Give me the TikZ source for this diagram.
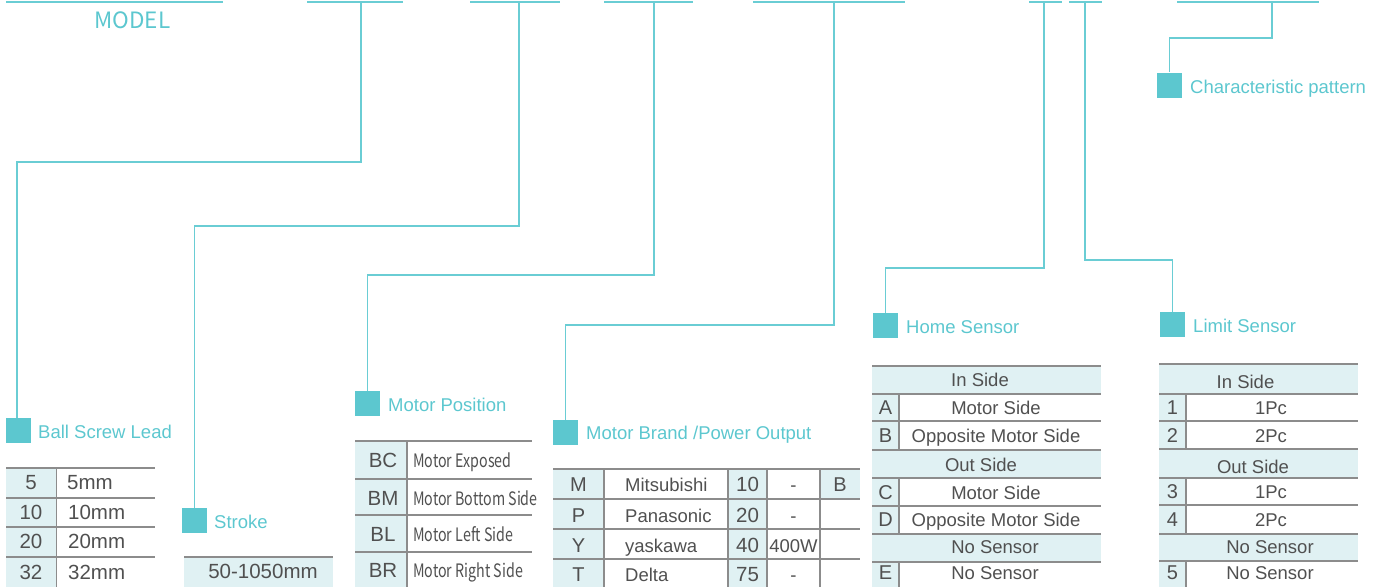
\documentclass[tikz,border=0pt]{standalone}
\usepackage{fontspec}
\setmainfont{Liberation Sans}
\newfontfamily\modelfont{Noto Sans CJK SC}
\newfontfamily\condfont[FakeStretch=0.77]{Noto Sans CJK SC}
\definecolor{teal1}{HTML}{5CC7CF}
\definecolor{tline}{HTML}{6ACDD4}
\definecolor{cellbg}{HTML}{E0F1F3}
\definecolor{gridc}{HTML}{8C8C8C}
\definecolor{txt}{HTML}{505050}
\tikzset{
  conn/.style={draw=tline, line width=1.5pt},
  sqr/.style={fill=teal1, minimum size=25pt, inner sep=0pt, draw=none},
  lbl/.style={text=teal1, font=\fontsize{18.5}{20}\selectfont, anchor=base west, inner sep=0pt},
  cell/.style={text=txt, font=\fontsize{18.5}{20}\selectfont, anchor=base, inner sep=0pt},
  cellL/.style={cell, anchor=base west},
  codecell/.style={cell, font=\fontsize{20}{22}\selectfont},
  bigcell/.style={cell, font=\fontsize{20.5}{22}\selectfont},
  bigcellL/.style={bigcell, anchor=base west},
  condcell/.style={cellL, font=\condfont\fontsize{18.5}{20}\selectfont},
  hgrid/.style={draw=gridc, line width=1.8pt},
  tgrid/.style={draw=gridc, line width=1.1pt},
  vgrid/.style={draw=gridc, line width=1.4pt},
}
\begin{document}
\begin{tikzpicture}[x=1pt,y=-1pt]
\useasboundingbox (0,0) rectangle (1384,587);
\clip (0,0) rectangle (1384,587);

% ---------- top segments ----------
\draw[conn] (6,2) -- (223,2);
\node[text=teal1, font=\modelfont\fontsize{22.5}{24}\selectfont, anchor=base, inner sep=0pt] (model) at (132.5,28.5) {MODEL};
\draw[conn] (307,2) -- (403,2);
\draw[conn] (470,2) -- (560,2);
\draw[conn] (604,2) -- (693,2);
\draw[conn] (753,2) -- (905,2);
\draw[conn] (1029,2) -- (1062,2);
\draw[conn] (1069,2) -- (1102,2);
\draw[conn] (1177,2) -- (1319,2);

\coordinate (t1) at (361,2);
\coordinate (t2) at (519,2);
\coordinate (t3) at (654,2);
\coordinate (t4) at (834,2);
\coordinate (t5) at (1044,2);
\coordinate (t6) at (1085,2);
\coordinate (t7) at (1272,2);

\coordinate (b1) at (361,162);
\coordinate (b2) at (519,226);
\coordinate (b3) at (654,275);
\coordinate (b4) at (834,325);
\coordinate (b5) at (1044,268);
\coordinate (b6) at (1085,260);
\coordinate (b7) at (1272,38);

% ---------- squares and labels ----------
\node[sqr] (sq1) at (18.5,430.5) {};
\node[sqr] (sq2) at (194.5,520.5) {};
\node[sqr] (sq3) at (367.5,403.5) {};
\node[sqr] (sq4) at (565.5,432.5) {};
\node[sqr] (sq5) at (885.5,325.5) {};
\node[sqr] (sq6) at (1172.5,324.5) {};
\node[sqr] (sq7) at (1169.5,85) {};

\node[lbl] (l1) at (38,438) {Ball Screw Lead};
\node[lbl] (l2) at (214,528) {Stroke};
\node[lbl] (l3) at (388,411) {Motor Position};
\node[lbl] (l4) at (586,439) {Motor Brand /Power Output};
\node[lbl] (l5) at (906,333) {Home Sensor};
\node[lbl] (l6) at (1193,332) {Limit Sensor};
\node[lbl] (l7) at (1190,93) {Characteristic pattern};

\draw[conn] (t1) -- (b1) -| ([xshift=-1.5pt]sq1.north);
\draw[conn] (t2) -- (b2) -| (sq2.north);
\draw[conn] (t3) -- (b3) -| (sq3.north);
\draw[conn] (t4) -- (b4) -| (sq4.north);
\draw[conn] (t5) -- (b5) -| (sq5.north);
\draw[conn] (t6) -- (b6) -| (sq6.north);
\draw[conn] (t7) -- (b7) -| (sq7.north);

% ---------- Ball screw lead table ----------
\fill[cellbg] (6,468) rectangle (56,587);
\foreach \y in {468,498,527,557} \draw[hgrid] (6,\y) -- (155,\y);
\draw[vgrid] (56.5,468) -- (56.5,587);
\node[bigcell] (bs1) at (31,489.5) {5};
\node[bigcell] (bs2) at (31,519) {10};
\node[bigcell] (bs3) at (31,548.5) {20};
\node[bigcell] (bs4) at (31,579) {32};
\node[bigcellL] (bv1) at (67,489.5) {5mm};
\node[bigcellL] (bv2) at (68,519) {10mm};
\node[bigcellL] (bv3) at (68,548.5) {20mm};
\node[bigcellL] (bv4) at (68,579) {32mm};

% ---------- Stroke table ----------
\fill[cellbg] (184,557) rectangle (333,587);
\draw[hgrid] (184,557) -- (333,557);
\node[bigcell] (st1) at (263,578) {50-1050mm};

% ---------- Motor position table ----------
\fill[cellbg] (355,441) rectangle (407,587);
\foreach \y in {441,479,515,552} \draw[hgrid] (355,\y) -- (532,\y);
\draw[vgrid] (407,441) -- (407,587);
\node[bigcell] (mp1) at (383,467) {BC};
\node[bigcell] (mp2) at (383,505) {BM};
\node[bigcell] (mp3) at (383,541) {BL};
\node[bigcell] (mp4) at (383,577) {BR};
\node[condcell] (mv1) at (413,467.5) {Motor Exposed};
\node[condcell] (mv2) at (413,505) {Motor Bottom Side};
\node[condcell] (mv3) at (413,541) {Motor Left Side};
\node[condcell] (mv4) at (413,577) {Motor Right Side};

% ---------- Motor brand table ----------
\fill[cellbg] (553,469) rectangle (604,587);
\fill[cellbg] (728,469) rectangle (767,587);
\fill[cellbg] (820,469) rectangle (860,499);
\foreach \y in {469,499,529,559} \draw[hgrid] (553,\y) -- (860,\y);
\foreach \x in {604,728,767,820} \draw[vgrid] (\x,469) -- (\x,587);
\node[codecell] (mb1) at (578.5,491) {M};
\node[codecell] (mb2) at (578.5,522) {P};
\node[codecell] (mb3) at (578.5,552) {Y};
\node[codecell] (mb4) at (578.5,581) {T};
\node[cellL] (mn1) at (625,491) {Mitsubishi};
\node[cellL] (mn2) at (625,522) {Panasonic};
\node[cellL] (mn3) at (625,552) {yaskawa};
\node[cellL] (mn4) at (625,581) {Delta};
\node[bigcell] (mw1) at (747.5,491) {10};
\node[bigcell] (mw2) at (747.5,522) {20};
\node[bigcell] (mw3) at (747.5,552) {40};
\node[bigcell] (mw4) at (747.5,581) {75};
\node[cell] (mo1) at (793.5,491) {-};
\node[cell] (mo2) at (793.5,522) {-};
\node[cell] (mo3) at (793.5,552) {400W};
\node[cell] (mo4) at (793.5,581) {-};
\node[codecell] (mbB) at (840,491) {B};

% ---------- Home sensor table ----------
\fill[cellbg] (872,366) rectangle (899,587);
\fill[cellbg] (872,366) rectangle (1101,394);
\fill[cellbg] (872,450) rectangle (1101,478);
\fill[cellbg] (872,534) rectangle (1101,562);
\foreach \y in {366,394,450,478,534,562} \draw[hgrid] (872,\y) -- (1101,\y);
\foreach \y in {421,506} \draw[tgrid] (872,\y) -- (1101,\y);
\draw[vgrid] (899,394) -- (899,450);
\draw[vgrid] (899,478) -- (899,534);
\draw[vgrid] (899,562) -- (899,587);
\node[cell] (hh1) at (980,386) {In Side};
\node[codecell] (hA) at (885.5,414.5) {A};
\node[cell] (hAv) at (996,414) {Motor Side};
\node[codecell] (hB) at (885.5,442.5) {B};
\node[cell] (hBv) at (996,442) {Opposite Motor Side};
\node[cell] (hh2) at (981,471) {Out Side};
\node[codecell] (hC) at (885.5,499.5) {C};
\node[cell] (hCv) at (996,499) {Motor Side};
\node[codecell] (hD) at (885.5,526.5) {D};
\node[cell] (hDv) at (996,526) {Opposite Motor Side};
\node[cell] (hh3) at (995,553) {No Sensor};
\node[codecell] (hE) at (885.5,579.5) {E};
\node[cell] (hEv) at (995,579) {No Sensor};

% ---------- Limit sensor table ----------
\fill[cellbg] (1159,364) rectangle (1186,587);
\fill[cellbg] (1159,364) rectangle (1358,394);
\fill[cellbg] (1159,449) rectangle (1358,478);
\fill[cellbg] (1159,534) rectangle (1358,561);
\foreach \y in {364,394,449,478,534,561} \draw[hgrid] (1159,\y) -- (1358,\y);
\foreach \y in {421,505} \draw[tgrid] (1159,\y) -- (1358,\y);
\draw[vgrid] (1186,394) -- (1186,449);
\draw[vgrid] (1186,478) -- (1186,534);
\draw[vgrid] (1186,561) -- (1186,587);
\node[cell] (lh1) at (1245.5,388) {In Side};
\node[codecell] (l1c) at (1172.5,414.5) {1};
\node[cell] (l1v) at (1271,414) {1Pc};
\node[codecell] (l2c) at (1172.5,442.5) {2};
\node[cell] (l2v) at (1271,442) {2Pc};
\node[cell] (lh2) at (1253,473) {Out Side};
\node[codecell] (l3c) at (1172.5,498.5) {3};
\node[cell] (l3v) at (1271,498) {1Pc};
\node[codecell] (l4c) at (1172.5,526.5) {4};
\node[cell] (l4v) at (1271,526) {2Pc};
\node[cell] (lh3) at (1270,553) {No Sensor};
\node[codecell] (l5c) at (1172.5,579.5) {5};
\node[cell] (l5v) at (1270,579) {No Sensor};
\end{tikzpicture}
\end{document}
